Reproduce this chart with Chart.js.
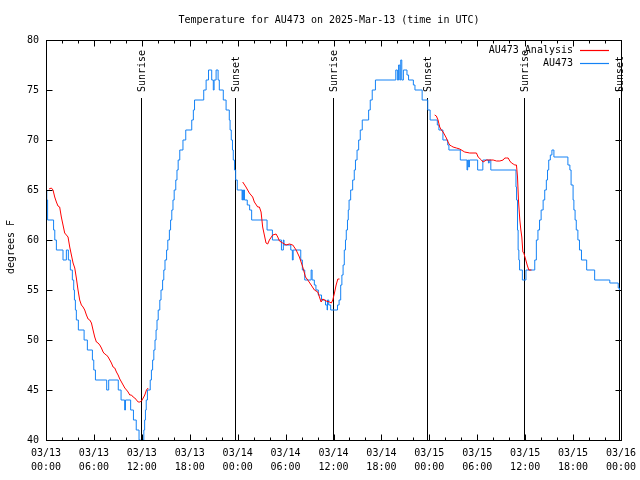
<!DOCTYPE html>
<html><head><meta charset="utf-8">
<script src="https://cdn.jsdelivr.net/npm/chart.js@4.4.1/dist/chart.umd.min.js"></script>
<style>html,body{margin:0;padding:0;background:#fff}canvas{display:block}</style>
</head><body>
<canvas id="c" width="640" height="480"></canvas>
<script>
const titleText = 'Temperature for AU473 on 2025-Mar-13 (time in UTC)';
const yAxisLabel = 'degrees F';
const seriesLabels = ['AU473 Analysis', 'AU473'];
const seriesColors = ['#ff0000', '#1482f5'];
const xTickDates = ['03/13','03/13','03/13','03/13','03/14','03/14','03/14','03/14','03/15','03/15','03/15','03/15','03/16'];
const xTickTimes = ['00:00','06:00','12:00','18:00','00:00','06:00','12:00','18:00','00:00','06:00','12:00','18:00','00:00'];
const eventHours = [11.88, 23.62, 35.92, 47.71, 59.88, 71.71];
const eventLabels = ['Sunrise','Sunset','Sunrise','Sunset','Sunrise','Sunset'];

// AU473 observations: hours since 03/13 00:00 UTC, temperature (F), value holds from that hour on
const obsHours = [0,0.1,0.2,0.95,1.1,1.3,2.13,2.55,2.8,3.05,3.3,3.47,3.56,3.68,3.8,4.05,4.77,5.18,5.81,5.98,6.19,7.6,7.85,9.05,9.4,9.85,9.95,10.6,10.95,11.3,11.65,11.85,12.15,12.25,12.35,12.45,12.55,12.7,
13.05,13.2,13.35,13.5,13.65,13.78,13.9,14.05,14.25,14.4,14.6,14.75,14.9,15.1,15.25,15.45,15.6,15.75,15.9,16.05,16.25,16.4,16.55,16.75,17.15,17.5,18.25,18.45,18.6,19.75,20.05,20.35,20.75,20.95,21.05,21.3,21.55,21.7,22.2,22.55,22.95,23.05,23.2,23.35,23.45,23.6,23.75,23.95,
24.2,24.55,24.62,24.7,24.76,24.85,25.2,25.5,25.75,27.68,28.35,29.48,29.72,29.8,30.65,30.85,30.95,31.9,32.1,32.4,33.2,33.32,33.6,33.8,34.1,34.5,35.0,35.2,35.25,35.4,35.65,36.5,36.7,36.9,37.05,37.2,37.35,37.5,37.6,37.75,37.85,37.95,38.15,38.4,38.6,38.75,38.95,39.15,39.35,39.6,40.4,40.6,40.85,41.25,43.8,44.0,44.15,44.3,44.42,44.55,44.75,45.2,45.4,46.0,46.2,47.1,47.8,48.1,
49.0,49.2,49.7,50.3,50.45,51.88,52.72,52.8,52.92,53.02,53.1,54.05,54.7,55.4,55.5,55.7,58.85,58.92,59.04,59.12,59.21,59.3,59.65,60.1,61.2,61.4,61.6,61.8,62.0,62.25,62.45,62.65,62.8,62.95,63.15,63.35,63.6,65.35,65.6,65.75,66.0,66.1,66.25,66.4,66.6,66.8,67.05,67.7,68.7,70.6,71.65,71.8,72];
const obsTemps = [65,64,62,61,60,59,58,59,58,57,56,55,54,53,52,51,50,49,48,47,46,45,46,45,44,43,44,43,42,41,40,39,40,41,42,43,44,45,
46,47,48,49,50,51,52,53,54,55,56,57,58,59,60,61,62,63,64,65,66,67,68,69,70,71,72,73,74,75,76,77,76,75,76,77,76,75,74,73,72,71,70,69,68,67,66,65,
65,64,65,64,65,64,63.5,63,62,61,60,59,60,59.5,59,58,59,58,57,56,57,56,55.5,55,54.5,54,53.5,53,54,53.5,53,53.5,54,55.5,56.5,57.5,59,60,61,62,63,64,65,66,67,68,69,70,71,72,73,74,75,76,77,76,77.5,76,78,76,77,76.5,76,75.5,75,74,73,72,
71.5,71,70,69.5,69,68,67,68,67.3,68,68,67,68,67.7,68,67,65.3,64,61,59,58,57,56,57,58,60,61,62,63,64,65,66,67,68,68.5,69,68.3,67.5,67,65.5,64,63,62,61,60,59,58,57,56,55.7,55.2,55];

// AU473 Analysis: hours, temperature (F); null separates the three runs
const anaHours = [0.38,0.67,0.88,1.09,1.3,1.5,1.71,1.92,2.13,2.34,2.55,2.76,2.97,3.18,3.39,3.6,3.8,4.01,4.22,4.43,4.64,4.85,5.06,5.27,5.48,5.69,5.89,6.1,6.31,6.52,6.73,6.94,7.15,7.36,7.57,7.78,7.99,8.19,8.4,8.61,8.82,9.03,9.24,9.45,9.66,9.87,10.08,10.28,10.49,10.7,10.91,11.12,11.33,11.54,11.75,11.96,12.17,12.37,12.58,12.79,
18,
24.63,25.04,25.46,25.88,26.09,26.51,26.72,26.93,27.13,27.34,27.55,27.76,27.97,28.39,28.81,29.02,29.23,29.64,30.06,30.48,30.9,31.32,31.73,32.15,32.49,32.78,33.2,33.61,34.03,34.24,34.45,34.66,35.08,35.5,35.73,35.91,36.12,36.33,36.54,36.75,
42,
48.67,48.88,49.09,49.3,49.51,49.72,49.93,50.13,50.34,50.55,50.76,50.97,51.39,51.81,52.22,52.43,53.06,53.9,54.11,54.52,54.73,55.15,55.57,55.99,56.41,56.83,57.24,57.45,57.66,57.87,58.08,58.29,58.5,58.71,58.91,59.04,59.16,59.33,59.46,59.58,59.71,59.83,60.08,60.25,60.46,60.79];
const anaTemps = [65.1,65.2,65,64.3,63.8,63.4,63.3,62.3,61.5,60.7,60.5,60.3,59.3,58.5,57.7,57.2,56.2,55,54,53.5,53.3,53,52.5,52.1,52,51.7,51,50.3,49.8,49.7,49.5,49.2,48.8,48.6,48.5,48.3,48,47.7,47.3,47.2,46.8,46.5,46.1,45.8,45.5,45.2,45,44.8,44.5,44.5,44.3,44.2,44,43.8,43.8,43.9,44.2,44.5,45,45.2,
null,
65.8,65.3,64.7,64.3,63.8,63.3,63.3,62.8,61.3,60.5,59.7,59.6,60,60.5,60.6,60.3,59.9,59.7,59.5,59.6,59.5,59,58.3,57.3,56.3,56,55.5,55,54.8,54.3,53.8,54.1,53.9,53.8,53.7,54,54.7,55.5,56.1,56.1,
null,
72.5,72.4,72,71.3,71,70.8,70.5,70.2,69.8,69.5,69.4,69.3,69.2,69.1,68.9,68.8,68.7,68.7,68.3,68,67.8,68,68,68,67.9,67.9,68,68.2,68.2,68.2,67.9,67.7,67.6,67.5,67.5,66.3,64,62,61,60.3,58.8,58.7,58,57.5,57,57];

const FAM = '"DejaVu Sans Mono", "Liberation Mono", monospace';
const FONT = '10px ' + FAM;

const gnuplotDecor = {
  id: 'gnuplotDecor',
  beforeDatasetsDraw(chart) {
    const {ctx, chartArea: a, scales: {x, y}} = chart;
    ctx.save();
    ctx.strokeStyle = '#000';
    ctx.lineWidth = 1;
    const lineTop = y.getPixelForValue(74.2);
    eventHours.forEach((h, i) => {
      const px = Math.round(x.getPixelForValue(h)) + 0.5;
      ctx.beginPath();
      ctx.moveTo(px, lineTop);
      ctx.lineTo(px, a.bottom);
      ctx.stroke();
      ctx.save();
      ctx.translate(px + 1, lineTop - 6);
      ctx.rotate(-Math.PI / 2);
      ctx.font = FONT;
      ctx.fillStyle = '#000';
      ctx.textAlign = 'left';
      ctx.textBaseline = 'middle';
      ctx.fillText(eventLabels[i], 0, 0);
      ctx.restore();
    });
    ctx.restore();
  },
  afterDraw(chart) {
    const {ctx, chartArea: a, scales: {x, y}} = chart;
    ctx.save();
    ctx.strokeStyle = '#000';
    ctx.lineWidth = 1;
    const L = Math.round(a.left) + 0.5, R = Math.round(a.right) + 0.5;
    const T = Math.round(a.top) + 0.5, B = Math.round(a.bottom) + 0.5;
    ctx.strokeRect(L, T, R - L, B - T);
    ctx.beginPath();
    for (let h = 2; h < 72; h += 2) {
      const len = h % 6 === 0 ? 6 : 3;
      const px = Math.round(x.getPixelForValue(h)) + 0.5;
      ctx.moveTo(px, B); ctx.lineTo(px, B - len);
      ctx.moveTo(px, T); ctx.lineTo(px, T + len);
    }
    for (let v = 45; v < 80; v += 5) {
      const py = Math.round(y.getPixelForValue(v)) + 0.5;
      ctx.moveTo(L, py); ctx.lineTo(L + 6, py);
      ctx.moveTo(R, py); ctx.lineTo(R - 6, py);
    }
    ctx.stroke();

    ctx.font = FONT;
    ctx.fillStyle = '#000';
    ctx.textAlign = 'center';
    ctx.textBaseline = 'middle';
    ctx.fillText(titleText, 329, 20);

    ctx.save();
    ctx.translate(11, 247);
    ctx.rotate(-Math.PI / 2);
    ctx.fillText(yAxisLabel, 0, 0);
    ctx.restore();

    // legend
    seriesLabels.forEach((lab, i) => {
      const ly = Math.round(a.top + 10 + i * 12.5) + 0.5;
      ctx.textAlign = 'right';
      ctx.fillStyle = '#000';
      ctx.fillText(lab, a.right - 48, ly);
      ctx.strokeStyle = seriesColors[i];
      ctx.lineWidth = 1.2;
      ctx.beginPath();
      ctx.moveTo(a.right - 41, ly);
      ctx.lineTo(a.right - 12, ly);
      ctx.stroke();
    });
    ctx.restore();
  }
};

const anaData = anaHours.map((h, i) => ({x: h, y: anaTemps[i]}));
const obsData = obsHours.map((h, i) => ({x: h, y: obsTemps[i]}));

new Chart(document.getElementById('c'), {
  type: 'line',
  data: {
    datasets: [
      {label: seriesLabels[0], data: anaData, borderColor: seriesColors[0], borderWidth: 1, pointRadius: 0, spanGaps: false, tension: 0, order: 1},
      {label: seriesLabels[1], data: obsData, borderColor: seriesColors[1], borderWidth: 1, pointRadius: 0, stepped: true, tension: 0, order: 2}
    ]
  },
  options: {
    responsive: false,
    animation: false,
    devicePixelRatio: 1,
    layout: {padding: {left: 0, right: 19, top: 40, bottom: 0}},
    plugins: {legend: {display: false}, title: {display: false}, tooltip: {enabled: false}},
    scales: {
      x: {
        type: 'linear', min: 0, max: 72,
        grid: {display: false, drawTicks: false},
        border: {display: false},
        ticks: {
          stepSize: 6, autoSkip: false, maxRotation: 0, padding: 7, color: '#000',
          font: {family: FAM, size: 10, lineHeight: 1.33},
          callback: (v) => { const i = Math.round(v / 6); return [xTickDates[i], xTickTimes[i]]; }
        },
        afterFit: (s) => { s.height = 40; s.paddingLeft = 0; s.paddingRight = 0; }
      },
      y: {
        min: 40, max: 80,
        grid: {display: false, drawTicks: false},
        border: {display: false},
        ticks: {stepSize: 5, padding: 7, color: '#000', font: {family: FAM, size: 10}},
        afterFit: (s) => { s.width = 46; s.paddingTop = 0; s.paddingBottom = 0; }
      }
    }
  },
  plugins: [gnuplotDecor]
});
</script>
</body></html>
